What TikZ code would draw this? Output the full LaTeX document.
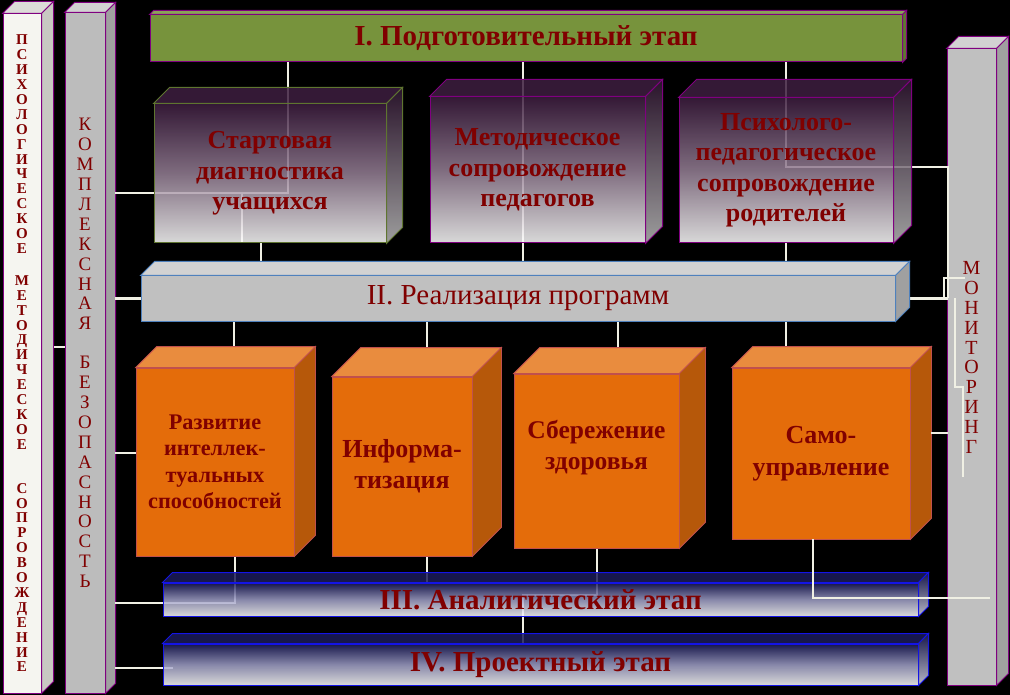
\documentclass[tikz,border=0pt]{standalone}
\usepackage{fontspec}
\setmainfont{Liberation Serif}
\usetikzlibrary{calc}

\definecolor{linkc}{RGB}{240,240,228}
\definecolor{textred}{RGB}{128,0,0}
\definecolor{edgepurple}{RGB}{128,0,128}
\definecolor{olivebar}{RGB}{119,147,60}
\definecolor{oliveline}{RGB}{95,117,48}
\definecolor{plumtop}{RGB}{62,30,64}
\definecolor{plummid}{RGB}{150,128,150}
\definecolor{greyfront}{RGB}{192,192,192}
\definecolor{greytop}{RGB}{210,210,210}
\definecolor{greyside}{RGB}{160,160,160}
\definecolor{barblue}{RGB}{79,129,189}
\definecolor{orangefront}{RGB}{228,108,10}
\definecolor{orangetop}{RGB}{233,140,62}
\definecolor{orangeside}{RGB}{182,88,10}
\definecolor{orangeline}{RGB}{192,80,77}
\definecolor{navy}{RGB}{28,28,90}
\definecolor{navymid}{RGB}{160,160,200}
\definecolor{blueline}{RGB}{20,20,230}
\definecolor{chalk}{RGB}{245,245,240}
\definecolor{chalkside}{RGB}{200,200,194}

\pgfdeclarelayer{back}
\pgfdeclarelayer{links}
\pgfsetlayers{back,links,main}

% top and right faces of a box whose front is node #1
\newcommand{\prism}[4]{%
  \path[#3] (#1.north west) -- ++(#2,-#2) -- ([shift={(#2,-#2)}]#1.north east) -- (#1.north east) -- cycle;
  \path[#4] (#1.north east) -- ++(#2,-#2) -- ([shift={(#2,-#2)}]#1.south east) -- (#1.south east) -- cycle;
}

\tikzset{
  face/.style={rectangle, inner sep=0pt, text=textred, align=center},
  pillar/.style={face, draw=edgepurple, line width=1pt},
  link/.style={draw=linkc, line width=2.5pt},
  stagebar/.style={face, draw=edgepurple, line width=1pt, fill=olivebar,
    font=\fontsize{29}{30}\selectfont\bfseries},
  glass/.style={face, line width=1pt, top color=plumtop, bottom color=white,
    middle color=plummid, fill opacity=0.85, text opacity=1,
    font=\fontsize{26}{30.5}\selectfont\bfseries},
  glasstop/.style={fill=plumtop, fill opacity=0.85},
  glassside/.style={top color=plumtop!80!black, bottom color=gray!55, fill opacity=0.85},
  brick/.style={face, draw=orangeline, line width=0.8pt, fill=orangefront},
  bricktop/.style={draw=orangeline, line width=0.8pt, fill=orangetop},
  brickside/.style={draw=orangeline, line width=0.8pt, fill=orangeside},
  bluebar/.style={face, draw=blueline, line width=1pt, top color=navy, bottom color=white,
    middle color=navymid, fill opacity=0.85, text opacity=1,
    font=\fontsize{29}{30}\selectfont\bfseries},
  bluetop/.style={draw=blueline, line width=1pt, fill=navy, fill opacity=0.85},
  blueside/.style={draw=blueline, line width=1pt, top color=navy, bottom color=navymid!40, fill opacity=0.85},
}

\begin{document}
\begin{tikzpicture}[x=1pt,y=-1pt]
\path[use as bounding box] (0,0) rectangle (1010,695);

\begin{pgfonlayer}{back}
  \fill[black] (0,0) rectangle (1010,695);
  % pillars
  \node[pillar, fill=chalk, minimum width=38, minimum height=679,
    font=\fontsize{15}{14.9}\selectfont\bfseries] (psy) at (22,353.5)
    {П\\С\\И\\Х\\О\\Л\\О\\Г\\И\\Ч\\Е\\С\\К\\О\\Е\\[17pt]М\\Е\\Т\\О\\Д\\И\\Ч\\Е\\С\\К\\О\\Е\\[29pt]С\\О\\П\\Р\\О\\В\\О\\Ж\\Д\\Е\\Н\\И\\Е};
  \prism{psy}{12}{draw=edgepurple, line width=1pt, fill=chalk!90!black}{draw=edgepurple, line width=1pt, fill=chalkside}
  \node[pillar, fill=greyfront!98!black, minimum width=40, minimum height=680,
    font=\fontsize{19}{19.9}\selectfont] (safe) at (85,353)
    {К\\О\\М\\П\\Л\\Е\\К\\С\\Н\\А\\Я\\[19pt]Б\\Е\\З\\О\\П\\А\\С\\Н\\О\\С\\Т\\Ь};
  \prism{safe}{10}{draw=edgepurple, line width=1pt, fill=greytop}{draw=edgepurple, line width=1pt, fill=greyside}
  \node[pillar, fill=greyfront, minimum width=49, minimum height=636,
    label={[text=textred, align=center, font=\fontsize{20}{19.9}\selectfont, yshift=9.5pt]center:М\\О\\Н\\И\\Т\\О\\Р\\И\\Н\\Г}]
    (monitor) at (971.5,367) {};
  \prism{monitor}{12}{draw=edgepurple, line width=1pt, fill=greytop}{draw=edgepurple, line width=1pt, fill=greyside}
\end{pgfonlayer}

% stage bars
\node[stagebar, minimum width=752, minimum height=47] (barI) at (526,38.5) {I. Подготовительный этап};
\prism{barI}{4}{draw=edgepurple, line width=1pt, fill=olivebar!85!white}{draw=edgepurple, line width=1pt, fill=olivebar!80!black}

\node[face, draw=barblue, line width=1pt, fill=greyfront, minimum width=754, minimum height=45,
  font=\fontsize{29}{30}\selectfont] (barII) at (518,298.5) {II. Реализация программ};
\prism{barII}{14}{draw=barblue, line width=1pt, fill=greytop}{draw=barblue, line width=1pt, fill=greyside}

\node[bluebar, minimum width=755, minimum height=33] (barIII) at (540.5,599.5) {III. Аналитический этап};
\prism{barIII}{10}{bluetop}{blueside}
\node[bluebar, minimum width=755, minimum height=41] (barIV) at (540.5,664.5) {IV. Проектный этап};
\prism{barIV}{10}{bluetop}{blueside}

% support boxes
\node[glass, draw=oliveline, minimum width=232, minimum height=139] (start) at (270,173.5)
  {Стартовая\\диагностика\\учащихся};
\prism{start}{16}{glasstop, draw=oliveline, line width=1pt}{glassside, draw=oliveline, line width=1pt}
\node[glass, draw=edgepurple, minimum width=215, minimum height=146] (method) at (537.5,170)
  {Методическое\\сопровождение\\педагогов};
\prism{method}{17}{glasstop, draw=edgepurple, line width=1pt}{glassside, draw=edgepurple, line width=1pt}
\node[glass, draw=edgepurple, minimum width=214, minimum height=145] (parents) at (786,170.5)
  {Психолого-\\педагогическое\\сопровождение\\родителей};
\prism{parents}{18}{glasstop, draw=edgepurple, line width=1pt}{glassside, draw=edgepurple, line width=1pt}

% programme boxes
\node[brick, minimum width=158, minimum height=188, font=\fontsize{22.3}{26.5}\selectfont\bfseries]
  (intellect) at (215,462) {Развитие\\интеллек-\\туальных\\способностей};
\prism{intellect}{21}{bricktop}{brickside}
\node[brick, minimum width=140, minimum height=179, font=\fontsize{26}{31}\selectfont\bfseries]
  (inform) at (402,466.5) {Информа-\\тизация};
\prism{inform}{29}{bricktop}{brickside}
\node[brick, minimum width=165, minimum height=174,
  label={[text=textred, align=center, font=\fontsize{25.5}{31}\selectfont\bfseries, yshift=13.5pt]center:Сбережение\\здоровья}]
  (health) at (596.5,461) {};
\prism{health}{26}{bricktop}{brickside}
\node[brick, minimum width=178, minimum height=171, font=\fontsize{26}{32}\selectfont\bfseries]
  (selfgov) at (821,453.5) {Само-\\управление};
\prism{selfgov}{21}{bricktop}{brickside}

% turning points of the links
\coordinate (safeR) at (115,0);
\coordinate (monL) at (948,0);
\coordinate (k1) at (288,193);
\coordinate (k2) at (242,193);
\coordinate (k3) at (261,0);
\coordinate (k4) at (523,0);
\coordinate (k5) at (786,167);
\coordinate (pA) at (235,603);
\coordinate (pA2) at (234,0);
\coordinate (pB) at (427,0);
\coordinate (pC) at (597,595);
\coordinate (pC2) at (523,595);
\coordinate (pC3) at (618,0);
\coordinate (pD) at (813,598);
\coordinate (pD2) at (786,0);
\coordinate (monE) at (990,598);
\coordinate (lA) at (115,453);
\coordinate (lIV) at (173,668);
\coordinate (lD) at (931,433);
\coordinate (psyR) at (54,347);
\coordinate (m1) at (944,278);
\coordinate (m2) at (965,278);
\coordinate (m3) at (955,387);
\coordinate (m4) at (963,387);
\coordinate (m5) at (963,477);

\begin{pgfonlayer}{links}
  \draw[link] (psyR) -- (psyR -| safe.west);
  \draw[link] (barI.south -| k1) |- (safeR |- k1);
  \draw[link] (k2) -- (k2 |- start.south);
  \draw[link] (start.south -| k3) -- (barII.north -| k3);
  \draw[link] (barI.south -| k4) -- (barII.north -| k4);
  \draw[link] (barI.south -| k5) -- (k5) -- (monL |- k5) -- (monL |- barII.east);
  \draw[link] (parents.south -| k5) -- (barII.north -| k5);
  \draw[link] (barII.west) -- (barII.west -| safeR);
  \draw[link] (barII.east) -- (barII.east -| monL);
  \draw[link] (barII.south -| pA2) -- (intellect.north -| pA2);
  \draw[link] (barII.south -| pB) -- (inform.north -| pB);
  \draw[link] (barII.south -| pC3) -- (health.north -| pC3);
  \draw[link] (barII.south -| pD2) -- (selfgov.north -| pD2);
  \draw[link] (lA) -- (lA -| intellect.west);
  \draw[link] (intellect.south -| pA) -- (pA) -- (pA -| safeR);
  \draw[link] (inform.south -| pB) -- (barIII.north -| pB);
  \draw[link] (health.south -| pC) -- (pC) -- (pC2) -- (pC2 |- barIV.north);
  \draw[link] (safeR |- lIV) -- (lIV);
\end{pgfonlayer}
% links drawn over the monitoring pillar
\draw[link] (selfgov.south -| pD) -- (pD) -- (monE);
\draw[link] (lD) -- (lD -| monL);
\draw[link] (m1 |- barII.east) -- (m1) -- (m2);
\draw[link] (m3 |- barII.east) -- (m3) -- (m4) -- (m5);
\end{tikzpicture}
\end{document}
